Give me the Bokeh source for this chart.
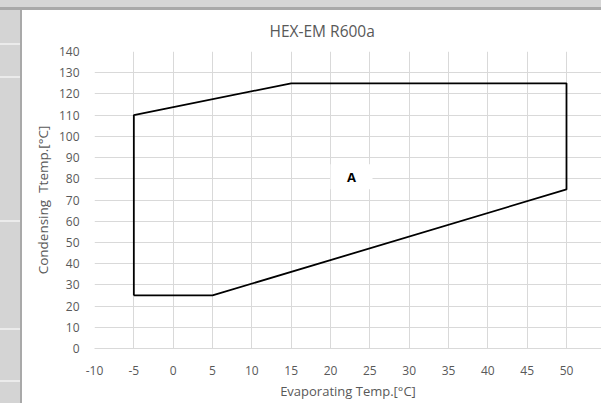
from bokeh.plotting import figure
from bokeh.models import Range1d, FixedTicker, Label, Title, Div
from bokeh.layouts import column, row
from bokeh.embed import file_html
from bokeh.resources import INLINE

# Data: envelope polygon of HEX-EM R600a
evap_temp = [-5, 5, 50, 50, 15, -5, -5]
cond_temp = [25, 25, 75, 125, 125, 110, 25]

x_ticks = list(range(-10, 60, 5))
y_ticks = list(range(0, 150, 10))

region_label = "A"
region_x = 22.67
region_y = 81.0

title_text = "HEX-EM R600a"
x_label = "Evaporating Temp.[°C]"
y_label = "Condensing\u00a0 Ttemp.[°C]"

FONT = "Open Sans"
TXT = "#595959"
GRID = "#d9d9d9"

p = figure(width=579, height=393, output_backend="svg", toolbar_location=None,
           x_range=Range1d(-10, 54.45), y_range=Range1d(0, 140),
           min_border_left=72, min_border_right=0, min_border_top=41, min_border_bottom=55,
           margin=0)
p.outline_line_color = None
p.background_fill_color = "white"
p.border_fill_color = "white"

t = Title(text=title_text, align="left", offset=175, text_font=FONT,
          text_font_size="15.5px", text_color=TXT, text_font_style="normal",
          vertical_align="top", standoff=16)
p.add_layout(t, "above")

for ax in (p.xaxis[0], p.yaxis[0]):
    ax.major_tick_line_color = None
    ax.minor_tick_line_color = None
    ax.major_label_text_font = FONT
    ax.major_label_text_font_size = "12px"
    ax.major_label_text_color = TXT
    ax.axis_label_text_font = FONT
    ax.axis_label_text_color = TXT
    ax.axis_label_text_font_style = "normal"
p.xaxis.axis_label_text_font_size = "13px"
p.yaxis.axis_label_text_font_size = "13.5px"

p.xaxis.ticker = FixedTicker(ticks=x_ticks)
p.yaxis.ticker = FixedTicker(ticks=y_ticks)
p.xaxis.major_label_overrides = {v: str(v) for v in x_ticks}
p.xaxis.axis_line_color = GRID
p.yaxis.axis_line_color = None
p.xaxis.axis_label = x_label
p.yaxis.axis_label = y_label
p.xaxis.major_label_standoff = 11
p.yaxis.major_label_standoff = 9
p.xaxis.axis_label_standoff = 4
p.yaxis.axis_label_standoff = 4

p.xgrid.ticker = FixedTicker(ticks=x_ticks)
p.ygrid.ticker = FixedTicker(ticks=y_ticks)
p.grid.grid_line_color = GRID
p.grid.grid_line_width = 1

p.line(evap_temp, cond_temp, line_color="black", line_width=1.8)

p.rect(x=[region_x], y=[region_y], width=42, height=25, width_units="screen",
       height_units="screen", fill_color="white", line_color=None)
lab = Label(x=region_x, y=region_y, text=region_label, text_font=FONT,
            text_font_style="bold", text_font_size="13px", text_color="black",
            text_align="center", text_baseline="middle")
p.add_layout(lab)

BAND = "#ebebeb"
bands = ", ".join(
    f"transparent {a}px, {BAND} {a}px, {BAND} {a + 2}px, transparent {a + 2}px"
    for a in (33, 66, 210, 318, 370)
)
top_bar = Div(text="", width=601, height=10, margin=0,
              styles={"background": "linear-gradient(to bottom, #d6d6d6 0px, #d6d6d6 7px, #a9a9a9 7px, #a9a9a9 10px)"})
left_bar = Div(text="", width=22, height=393, margin=0,
               styles={"background": "linear-gradient(to right, transparent 0px, transparent 20px, #a9a9a9 20px, #a9a9a9 22px), "
                                     f"linear-gradient(to bottom, {bands}), #d4d4d4"})

layout = column(top_bar, row(left_bar, p, spacing=0, margin=0), spacing=0, margin=0)

open("out.html", "w").write(file_html(layout, INLINE))
